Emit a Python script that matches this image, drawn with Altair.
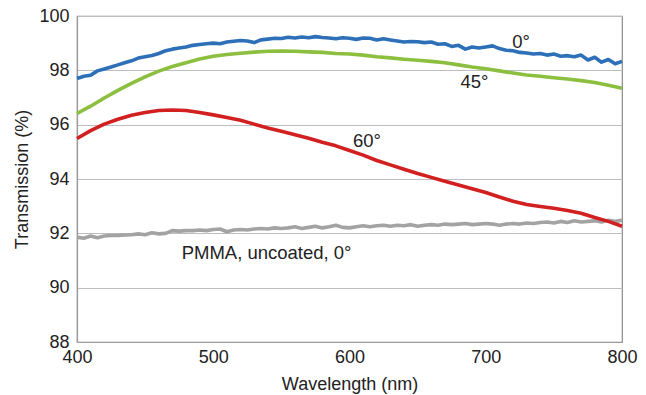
import altair as alt
import pandas as pd

# Wavelength grids (nm)
wl_fine = list(range(400, 801, 5))
wl_coarse = list(range(400, 801, 10))

# Transmission (%) of the coated part at 0° incidence (5 nm steps)
t_0deg = [
    97.70, 97.78, 97.82, 97.98, 98.05, 98.12, 98.20, 98.28, 98.35, 98.45,
    98.50, 98.55, 98.62, 98.72, 98.78, 98.82, 98.86, 98.92, 98.95, 98.98,
    99.00, 98.98, 99.04, 99.07, 99.10, 99.08, 99.02, 99.12, 99.15, 99.18,
    99.17, 99.22, 99.19, 99.23, 99.20, 99.24, 99.21, 99.19, 99.16, 99.20,
    99.18, 99.14, 99.19, 99.18, 99.12, 99.16, 99.12, 99.08, 99.04, 99.06,
    99.05, 99.02, 99.04, 98.96, 98.98, 98.88, 98.92, 98.78, 98.86, 98.82,
    98.86, 98.90, 98.80, 98.74, 98.72, 98.66, 98.64, 98.60, 98.62, 98.56,
    98.60, 98.52, 98.54, 98.50, 98.56, 98.38, 98.48, 98.30, 98.40, 98.24,
    98.33,
]

# Uncoated PMMA at 0° incidence (5 nm steps)
t_pmma = [
    91.86, 91.82, 91.90, 91.84, 91.90, 91.92, 91.92, 91.94, 91.95, 91.98,
    91.95, 92.02, 91.98, 92.00, 92.10, 92.08, 92.10, 92.10, 92.12, 92.10,
    92.14, 92.16, 92.06, 92.12, 92.14, 92.12, 92.16, 92.18, 92.16, 92.20,
    92.18, 92.20, 92.24, 92.18, 92.22, 92.26, 92.20, 92.24, 92.30, 92.22,
    92.20, 92.24, 92.28, 92.24, 92.28, 92.30, 92.26, 92.30, 92.28, 92.32,
    92.26, 92.30, 92.32, 92.30, 92.34, 92.32, 92.34, 92.36, 92.32, 92.34,
    92.36, 92.34, 92.30, 92.34, 92.36, 92.34, 92.38, 92.36, 92.40, 92.42,
    92.38, 92.44, 92.40, 92.46, 92.42, 92.44, 92.46, 92.42, 92.48, 92.44,
    92.48,
]

# Coated part at 45° incidence (10 nm steps)
t_45deg = [
    96.41, 96.68, 96.98, 97.26, 97.52, 97.76, 97.97, 98.14, 98.28, 98.42,
    98.52, 98.58, 98.63, 98.67, 98.70, 98.71, 98.70, 98.68, 98.66, 98.62,
    98.60, 98.56, 98.50, 98.46, 98.41, 98.37, 98.33, 98.28, 98.20, 98.12,
    98.06, 97.98, 97.90, 97.83, 97.78, 97.73, 97.68, 97.62, 97.55, 97.45,
    97.34,
]

# Coated part at 60° incidence (10 nm steps)
t_60deg = [
    95.49, 95.78, 96.02, 96.20, 96.35, 96.45, 96.52, 96.54, 96.52, 96.45,
    96.36, 96.26, 96.16, 96.02, 95.88, 95.76, 95.63, 95.50, 95.35, 95.22,
    95.05, 94.88, 94.68, 94.52, 94.36, 94.20, 94.06, 93.92, 93.78, 93.64,
    93.50, 93.34, 93.18, 93.06, 92.99, 92.92, 92.84, 92.74, 92.58, 92.44,
    92.26,
]

series_names = ["pmma", "45", "0", "60"]
series_colors = ["#a3a3a3", "#8cbf3f", "#2e70b7", "#d21f1f"]

# Curve annotations
label_text = ["0°", "45°", "60°", "PMMA, uncoated, 0°"]
label_wl = [725.9, 691.7, 612.8, 476.8]
label_t = [99.06, 97.56, 95.40, 91.27]
label_align = ["center", "center", "center", "left"]

frames = [
    pd.DataFrame({"wl": wl_fine, "t": t_pmma, "s": "pmma"}),
    pd.DataFrame({"wl": wl_coarse, "t": t_45deg, "s": "45"}),
    pd.DataFrame({"wl": wl_fine, "t": t_0deg, "s": "0"}),
    pd.DataFrame({"wl": wl_coarse, "t": t_60deg, "s": "60"}),
]
curves = pd.concat(frames, ignore_index=True)
curves["order"] = curves["s"].map({n: i for i, n in enumerate(series_names)})

labels = pd.DataFrame({"txt": label_text, "wl": label_wl, "t": label_t, "al": label_align})

FONT = "Liberation Sans"

x_enc = alt.X(
    "wl:Q",
    scale=alt.Scale(domain=[400, 800], nice=False, zero=False),
    axis=alt.Axis(
        title="Wavelength (nm)",
        values=[400, 500, 600, 700, 800],
        grid=False,
        ticks=False,
        labelPadding=6,
        titlePadding=9,
        labelFlush=False,
    ),
)
y_enc = alt.Y(
    "t:Q",
    scale=alt.Scale(domain=[88, 100], nice=False, zero=False),
    axis=alt.Axis(
        title="Transmission (%)",
        values=[88, 90, 92, 94, 96, 98, 100],
        grid=True,
        ticks=False,
        labelPadding=8,
        titlePadding=7,
    ),
)

lines = alt.Chart(curves).mark_line(strokeWidth=3.6, strokeJoin="round").encode(
    x=x_enc,
    y=y_enc,
    color=alt.Color(
        "s:N",
        scale=alt.Scale(domain=series_names, range=series_colors),
        legend=None,
    ),
    detail="s:N",
    order="order:Q",
)

center_labels = alt.Chart(labels[labels["al"] == "center"]).mark_text(
    font=FONT, fontSize=18.5, color="#222222", align="center", baseline="middle"
).encode(x="wl:Q", y="t:Q", text="txt:N")

left_labels = alt.Chart(labels[labels["al"] == "left"]).mark_text(
    font=FONT, fontSize=18.5, color="#222222", align="left", baseline="middle"
).encode(x="wl:Q", y="t:Q", text="txt:N")

chart = (
    alt.layer(lines, center_labels, left_labels)
    .properties(
        width=545,
        height=326,
        autosize=alt.AutoSizeParams(type="none"),
        padding={"left": 77, "top": 16, "right": 24, "bottom": 53},
    )
    .configure(background="white")
    .configure_view(stroke="#8a8a8a", strokeWidth=1.2)
    .configure_axis(
        labelFont=FONT,
        titleFont=FONT,
        labelFontSize=18,
        titleFontSize=18,
        labelColor="#222222",
        titleColor="#222222",
        titleFontWeight="normal",
        domainColor="#9a9a9a",
        domainWidth=1.2,
        gridColor="#bdbdbd",
        gridWidth=1.2,
    )
)

chart.save("out.html", embed_options={"renderer": "svg", "actions": False})
